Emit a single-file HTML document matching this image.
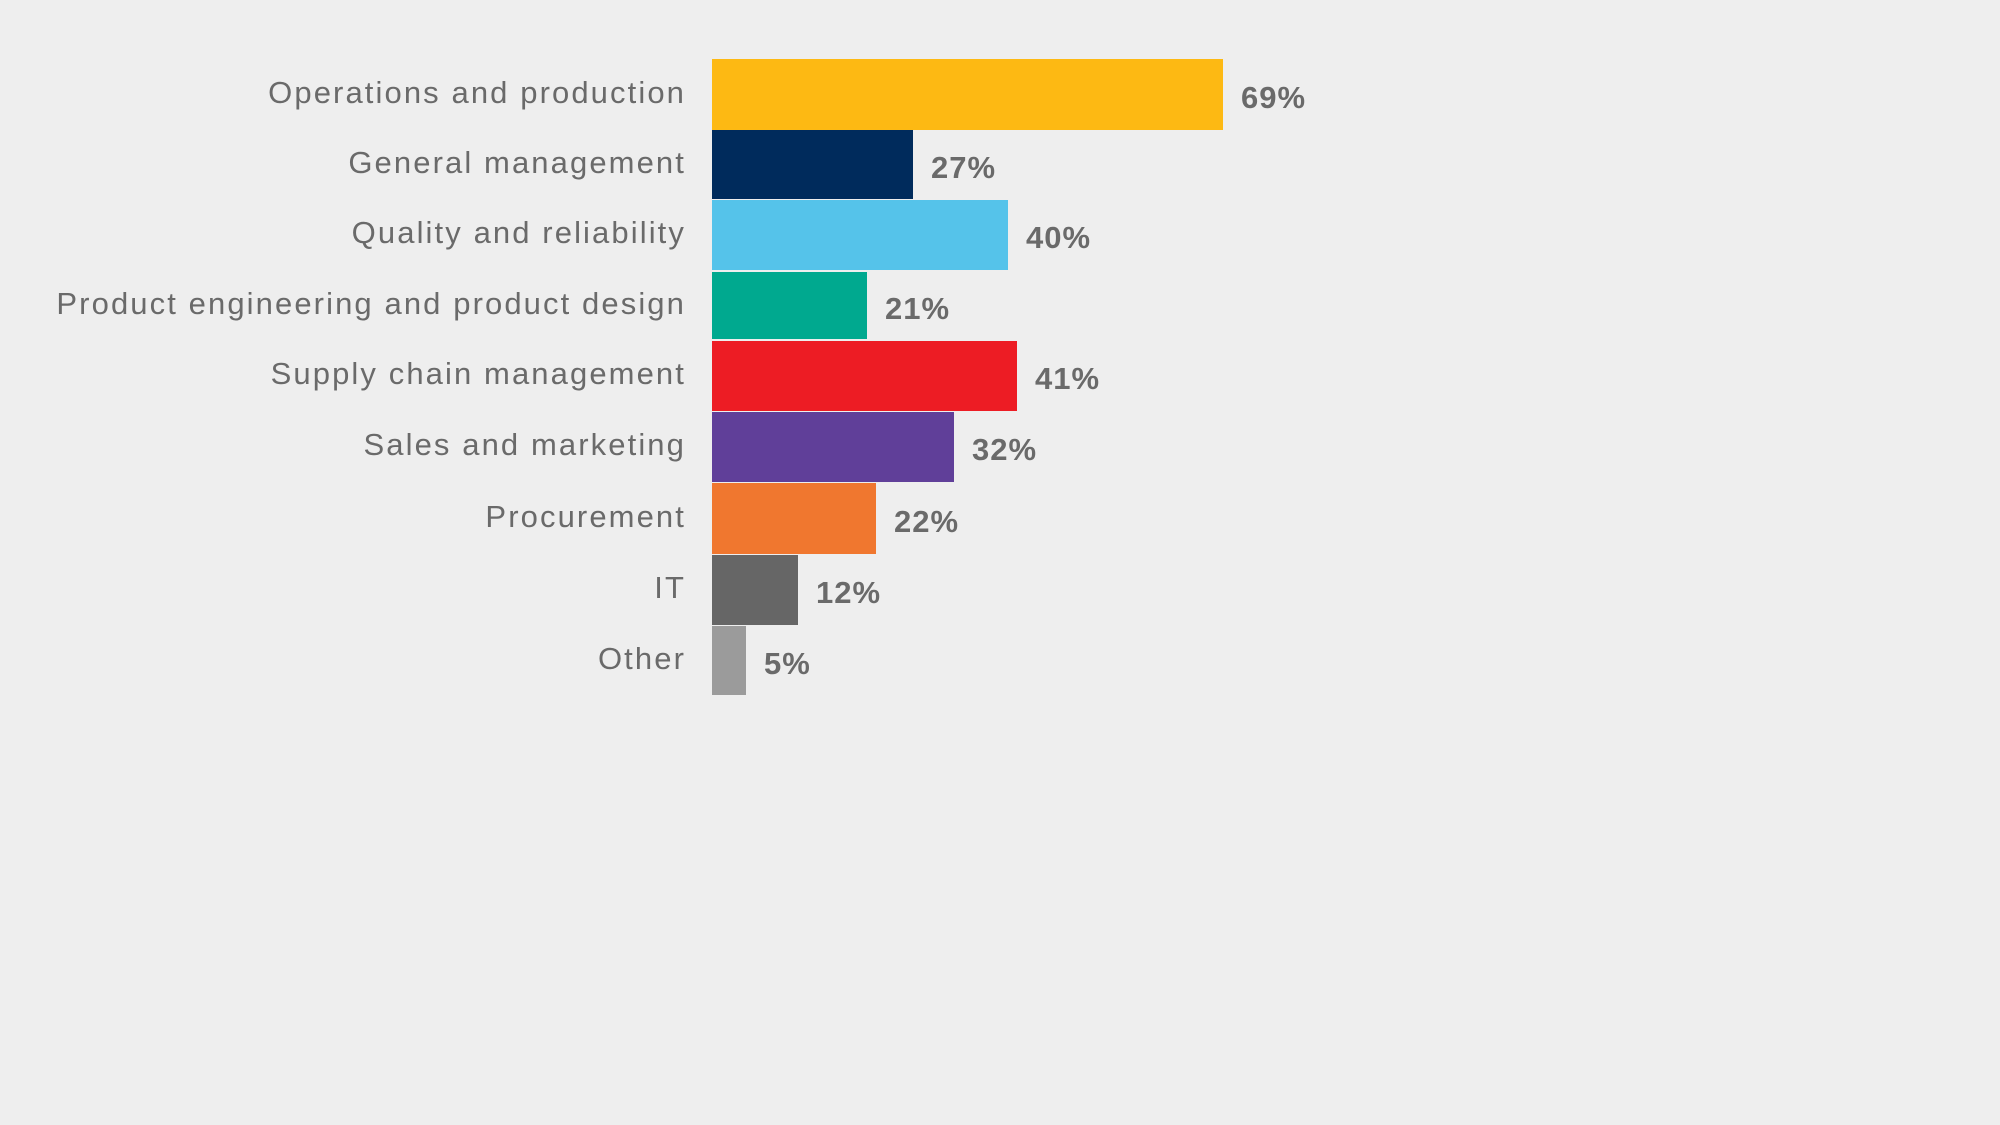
<!DOCTYPE html>
<html><head><meta charset="utf-8"><style>
body{margin:0;width:2000px;height:1125px;background:#eeeeee;overflow:hidden;font-family:"Liberation Sans",sans-serif;}
.l{position:absolute;right:1314px;color:#6a6a6a;font-size:31px;letter-spacing:2.1px;white-space:nowrap;transform:translateY(-50%);}
.b{position:absolute;left:712px;}
.v{position:absolute;color:#6a6a6a;font-size:31px;letter-spacing:1px;font-weight:bold;transform:translateY(-50%);}
</style></head><body>
<div id="c"></div>
<script>
var d=[["Operations and production",59,130,1223,"#fdb913","69%"],
["General management",130,199,913,"#002b5c","27%"],
["Quality and reliability",200,270,1008,"#55c3ea","40%"],
["Product engineering and product design",272,339,867,"#00a98f","21%"],
["Supply chain management",341,411,1017,"#ed1c24","41%"],
["Sales and marketing",412,482,954,"#603f99","32%"],
["Procurement",483,554,876,"#f0772f","22%"],
["IT",555,625,798,"#666666","12%"],
["Other",626,695,746,"#9b9b9b","5%"]];
var h="";
d.forEach(function(e){var m=(e[1]+e[2])/2;
h+='<div class="l" style="top:'+(m-2)+'px">'+e[0]+'</div>';
h+='<div class="b" style="top:'+e[1]+'px;height:'+(e[2]-e[1])+'px;width:'+(e[3]-712)+'px;background:'+e[4]+'"></div>';
h+='<div class="v" style="top:'+(m+3)+'px;left:'+(e[3]+18)+'px">'+e[5]+'</div>';});
document.getElementById("c").innerHTML=h;
</script>
</body></html>
